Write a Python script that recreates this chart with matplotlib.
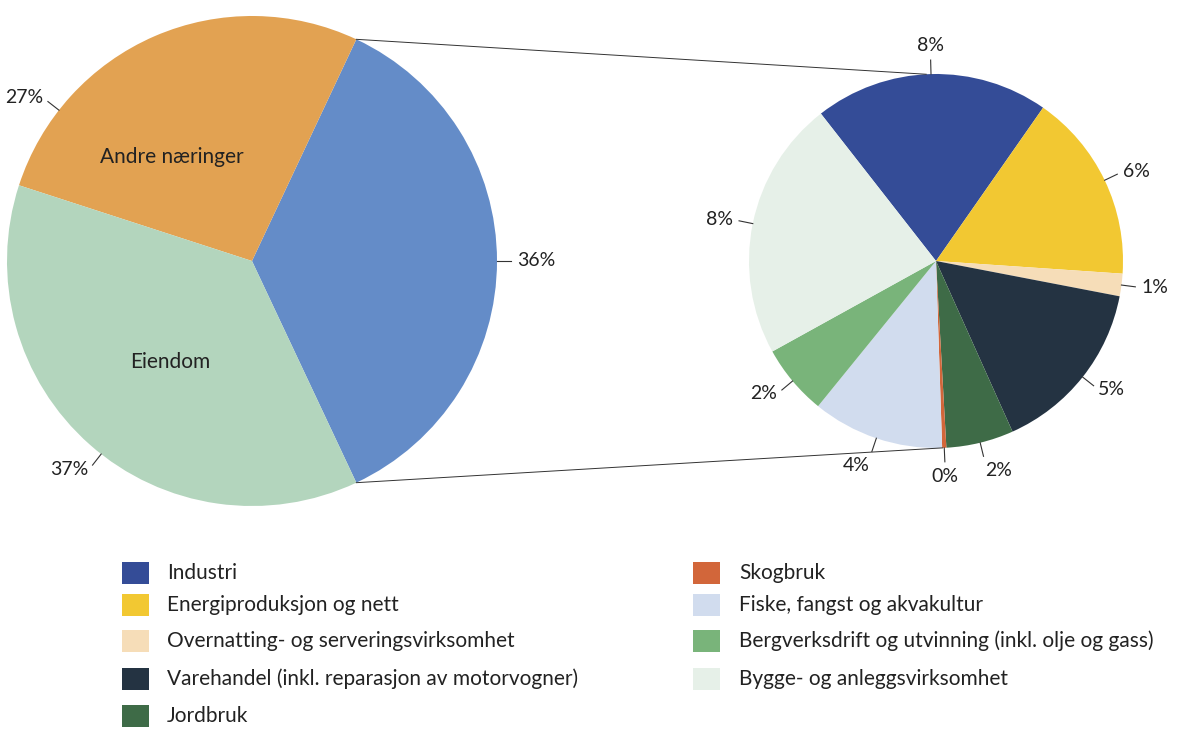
import numpy as np
import matplotlib
matplotlib.use("Agg")
import matplotlib.pyplot as plt
from matplotlib.patches import Rectangle

plt.rcParams["font.family"] = "Lato"

left_names = ["Næringer i utsnitt", "Andre næringer", "Eiendom"]
left_values = [36, 27, 37]
left_labels = ["36%", "27%", "37%"]
left_colors = ["#648CC8", "#E2A252", "#B3D5BD"]

right_names = ["Industri", "Energiproduksjon og nett", "Overnatting- og serveringsvirksomhet",
               "Varehandel (inkl. reparasjon av motorvogner)", "Jordbruk", "Skogbruk",
               "Fiske, fangst og akvakultur", "Bergverksdrift og utvinning (inkl. olje og gass)",
               "Bygge- og anleggsvirksomhet"]
right_values = [7.3, 5.9, 0.7, 5.5, 2.1, 0.13, 4.1, 2.2, 8.1]
right_labels = ["8%", "6%", "1%", "5%", "2%", "0%", "4%", "2%", "8%"]
right_colors = ["#344C97", "#F2C832", "#F6DDB8", "#243342", "#3E6B47", "#D2663A",
                "#D1DCEE", "#79B47A", "#E6F0E8"]

W, H = 1200, 745
fig = plt.figure(figsize=(12, 7.45), dpi=100)
ax = fig.add_axes([0, 0, 1, 1])

LC, LR = (252, H - 261), 245
RC, RR = (936, H - 261), 187

half = left_values[0] / 100 * 180
ax.pie(left_values, colors=left_colors, center=LC, radius=LR, startangle=-half,
       counterclock=True, frame=True, wedgeprops=dict(linewidth=0))

def outer_label(c, r, ang, txt):
    a = np.deg2rad(ang)
    x0, y0 = c[0] + r*np.cos(a), c[1] + r*np.sin(a)
    x1, y1 = c[0] + (r+14)*np.cos(a), c[1] + (r+14)*np.sin(a)
    ax.plot([x0, x1], [y0, y1], color="#333333", lw=0.8)
    xt, yt = c[0] + (r+20)*np.cos(a), c[1] + (r+20)*np.sin(a)
    ha = "left" if np.cos(a) > 0.2 else ("right" if np.cos(a) < -0.2 else "center")
    va = "bottom" if np.sin(a) > 0.8 else ("top" if np.sin(a) < -0.8 else "center")
    ax.text(xt, yt, txt, ha=ha, va=va, fontsize=14, color="#222222")

outer_label(LC, LR, 0, left_labels[0])
outer_label(LC, LR, 142, left_labels[1])
outer_label(LC, LR, 232, left_labels[2])
ax.text(172, H-157, "Andre næringer", ha="center", va="center", fontsize=15, color="#222222")
ax.text(170, H-362, "Eiendom", ha="center", va="center", fontsize=15, color="#222222")

rstart = 128
ax.pie(right_values, colors=right_colors, center=RC, radius=RR, startangle=rstart,
       counterclock=False, frame=True, wedgeprops=dict(linewidth=0))
cum = rstart
for v, lab in zip(right_values, right_labels):
    span = v / sum(right_values) * 360
    mid = cum - span/2
    cum -= span
    outer_label(RC, RR, mid, lab)

a1 = np.deg2rad(half)
p1 = (LC[0] + LR*np.cos(a1), LC[1] + LR*np.sin(a1))
p2 = (LC[0] + LR*np.cos(-a1), LC[1] + LR*np.sin(-a1))
q1 = (RC[0] + RR*np.cos(np.deg2rad(93)), RC[1] + RR*np.sin(np.deg2rad(93)))
q2 = (RC[0] + RR*np.cos(np.deg2rad(-88)), RC[1] + RR*np.sin(np.deg2rad(-88)))
ax.plot([p1[0], q1[0]], [p1[1], q1[1]], color="#333333", lw=0.7)
ax.plot([p2[0], q2[0]], [p2[1], q2[1]], color="#333333", lw=0.7)

rows = [573, 605, 641, 679, 716]
for j, i in enumerate([0, 1, 2, 3, 4]):
    y = H - rows[j]
    ax.add_patch(Rectangle((122, y-11), 27, 22, color=right_colors[i], lw=0))
    ax.text(167, y, right_names[i], va="center", fontsize=15, color="#222222")
for j, i in enumerate([5, 6, 7, 8]):
    y = H - rows[j]
    ax.add_patch(Rectangle((693, y-11), 27, 22, color=right_colors[i], lw=0))
    ax.text(739, y, right_names[i], va="center", fontsize=15, color="#222222")

ax.set_xlim(0, W); ax.set_ylim(0, H); ax.set_aspect("equal"); ax.axis("off")
fig.savefig("out.png", dpi=100, facecolor="white")
